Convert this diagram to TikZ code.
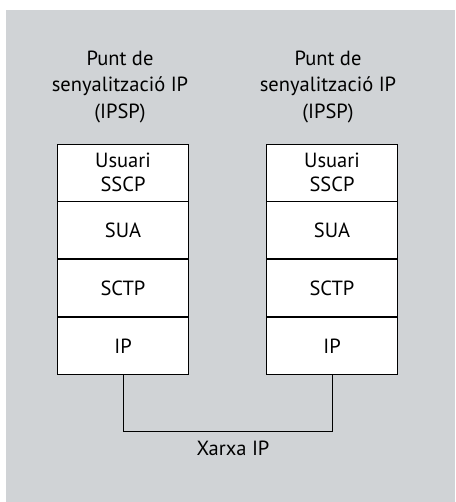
\documentclass[tikz,border=0pt]{standalone}
\usepackage{fontspec}
\setmainfont{PT Sans}
\usetikzlibrary{positioning}
\definecolor{panelgray}{RGB}{208,211,214}

\begin{document}
\begin{tikzpicture}[x=1pt,y=1pt,thick]
	% `layer' is used for one level of a protocol stack.
	% `title' is used for the text above each stack.
	\tikzstyle{layer} = [draw,fill=white,line width=0.8pt,minimum width=130.6pt,minimum height=57pt,inner sep=0pt,align=center,font=\fontsize{20.5}{24}\selectfont]
	\tikzstyle{title} = [align=center,font=\fontsize{20.5}{26.5}\selectfont]
	\tikzstyle{surround} = [fill=panelgray]
	\useasboundingbox (0,0) rectangle (455,-502);
	% Background panel.
	\fill[surround] (6,-10) rectangle (454.5,-502);
	%
	% Left stack.
	\node[layer] (usrL) at (123,-172.5) {Usuari\\SSCP};
	\node[layer,below=0pt of usrL] (suaL) {SUA};
	\node[layer,below=0pt of suaL] (sctpL) {SCTP};
	\node[layer,below=0pt of sctpL] (ipL) {IP};
	\node[title] (titleL) at (120,-87) {Punt de\\senyalització IP\\(IPSP)};
	% Right stack.
	\node[layer] (usrR) at (332,-172.5) {Usuari\\SSCP};
	\node[layer,below=0pt of usrR] (suaR) {SUA};
	\node[layer,below=0pt of suaR] (sctpR) {SCTP};
	\node[layer,below=0pt of sctpR] (ipR) {IP};
	\node[title] (titleR) at (328,-87) {Punt de\\senyalització IP\\(IPSP)};
	%
	% Network between the two IP layers.
	\coordinate (netL) at ([yshift=-57pt]ipL.south);
	\draw[line width=0.8pt] (ipL.south) -- (netL) -| (ipR.south);
	\node[title] (xarxa) at (233,-448) {Xarxa IP};
%
\end{tikzpicture}
\end{document}
